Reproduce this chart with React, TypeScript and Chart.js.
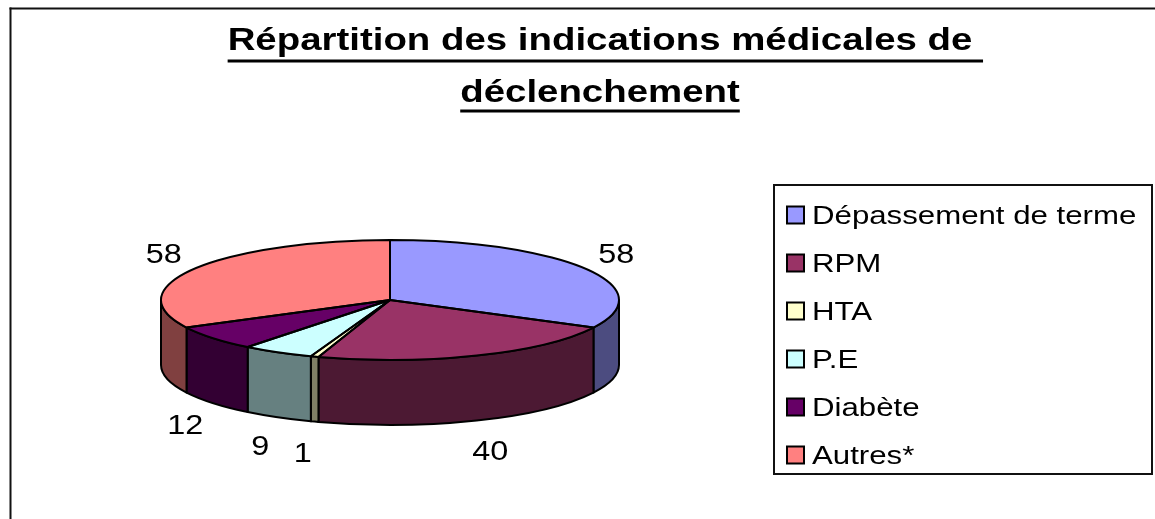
import React, { useEffect, useRef } from "react";
import { Chart, registerables } from "chart.js";

Chart.register(...registerables);

const TITLE_LINES = ["Répartition des indications médicales de ", "déclenchement"];
const CATEGORIES = ["Dépassement de terme", "RPM", "HTA", "P.E", "Diabète", "Autres*"];
const VALUES = [58, 40, 1, 9, 12, 58];
const TOP_COLORS = ["#9999FF", "#993366", "#FFFFCC", "#CCFFFF", "#660066", "#FF8080"];
const SIDE_COLORS = ["#4C4C80", "#4C1933", "#808066", "#668080", "#330033", "#804040"];

const W = 1155;
const H = 519;
const SX = 1.2; // horizontal stretch of all text
const FONT = 'Arial, "Liberation Sans", Helvetica, sans-serif';
const RY = 60; // vertical radius of the pie top
const DEPTH = 65; // thickness of the pie

function stretchedText(ctx: CanvasRenderingContext2D, text: string, x: number, y: number, align: CanvasTextAlign) {
  ctx.save();
  ctx.translate(x, y);
  ctx.scale(SX, 1);
  ctx.textAlign = align;
  ctx.textBaseline = "alphabetic";
  ctx.fillText(text, 0, 0);
  ctx.restore();
}

const framePlugin = {
  id: "frame",
  beforeDraw(chart: any) {
    const ctx = chart.ctx;
    ctx.save();
    ctx.fillStyle = "#ffffff";
    ctx.fillRect(0, 0, chart.width, chart.height);
    ctx.fillStyle = "#111111";
    ctx.fillRect(9.5, 7.5, chart.width, 2);
    ctx.fillRect(9.5, 7.5, 2, chart.height);
    ctx.restore();
  },
};

const pie3dPlugin = {
  id: "pie3d",
  beforeDatasetsDraw(chart: any) {
    const ctx = chart.ctx;
    const arcs = chart.getDatasetMeta(0).data;
    ctx.save();
    if (!arcs.length) return;
    const { x: cx, y: cy, outerRadius: R } = arcs[0];
    arcs.forEach((arc: any, i: number) => {
      const s = Math.max(arc.startAngle, 0);
      const e = Math.min(arc.endAngle, Math.PI);
      if (e <= s) return;
      ctx.beginPath();
      ctx.ellipse(cx, cy, R, RY, 0, s, e, false);
      ctx.ellipse(cx, cy + DEPTH, R, RY, 0, e, s, true);
      ctx.closePath();
      ctx.fillStyle = SIDE_COLORS[i];
      ctx.fill();
      ctx.lineWidth = 2;
      ctx.lineJoin = "round";
      ctx.strokeStyle = "#000";
      ctx.stroke();
    });
    const ky = RY / R;
    ctx.translate(cx, cy);
    ctx.scale(1, ky);
    ctx.translate(-cx, -cy);
  },
  afterDatasetsDraw(chart: any) {
    const ctx = chart.ctx;
    ctx.restore();
    const arcs = chart.getDatasetMeta(0).data;
    if (!arcs.length) return;
    const { x: cx, y: cy, outerRadius: R } = arcs[0];
    ctx.save();
    ctx.lineWidth = 2;
    ctx.lineJoin = "round";
    ctx.strokeStyle = "#000";
    arcs.forEach((arc: any) => {
      ctx.beginPath();
      ctx.moveTo(cx, cy);
      ctx.ellipse(cx, cy, R, RY, 0, arc.startAngle, arc.endAngle, false);
      ctx.closePath();
      ctx.stroke();
    });
    // data labels
    const fs = 27;
    ctx.fillStyle = "#000";
    ctx.font = `${fs}px ${FONT}`;
    arcs.forEach((arc: any, i: number) => {
      const mid = (arc.startAngle + arc.endAngle) / 2;
      const sn = Math.sin(mid);
      const x = cx + (R + 36) * Math.cos(mid);
      const y = cy + (RY + 30) * sn + (sn > 0 ? DEPTH + 2 : 0);
      stretchedText(ctx, String(VALUES[i]), x, y + 0.358 * fs, "center");
    });
    ctx.restore();
  },
};

const titleLegendPlugin = {
  id: "titleLegend",
  afterDraw(chart: any) {
    const ctx = chart.ctx;
    ctx.save();
    // title
    ctx.fillStyle = "#000";
    const tSize = 32;
    ctx.font = `bold ${tSize}px ${FONT}`;
    const baselines = [50, 102];
    const underlines = [59.5, 109.5];
    TITLE_LINES.forEach((line, i) => {
      const full = ctx.measureText(line).width * SX;
      const ink = ctx.measureText(line.trimEnd()).width * SX;
      const x0 = 600 - ink / 2;
      stretchedText(ctx, line, x0, baselines[i], "left");
      ctx.fillRect(x0, underlines[i], full, 3);
    });
    // legend
    const box = { l: 774, t: 185, r: 1152, b: 474 };
    ctx.lineWidth = 2;
    ctx.strokeStyle = "#111";
    ctx.strokeRect(box.l, box.t, box.r - box.l, box.b - box.t);
    const lSize = 26;
    ctx.font = `${lSize}px ${FONT}`;
    CATEGORIES.forEach((label, i) => {
      const cyItem = 215 + 48 * i;
      ctx.fillStyle = TOP_COLORS[i];
      ctx.fillRect(787, cyItem - 8.5, 17, 17);
      ctx.lineWidth = 2;
      ctx.strokeStyle = "#000";
      ctx.strokeRect(787, cyItem - 8.5, 17, 17);
      ctx.fillStyle = "#000";
      stretchedText(ctx, label, 812, cyItem + 0.358 * lSize, "left");
    });
    ctx.restore();
  },
};

export default function App() {
  const canvasRef = useRef<HTMLCanvasElement | null>(null);

  useEffect(() => {
    const canvas = canvasRef.current;
    if (!canvas) return;
    const chart = new Chart(canvas, {
      type: "pie",
      data: {
        labels: CATEGORIES,
        datasets: [
          {
            data: VALUES,
            backgroundColor: TOP_COLORS,
            borderWidth: 0,
            hoverOffset: 0,
            clip: false,
          } as any,
        ],
      },
      options: {
        animation: false,
        responsive: false,
        events: [],
        radius: 229,
        rotation: 0,
        layout: { padding: { left: 161, right: W - 619, top: 81, bottom: 0 } },
        plugins: {
          legend: { display: false },
          title: { display: false },
          tooltip: { enabled: false },
        },
      } as any,
      plugins: [framePlugin, pie3dPlugin, titleLegendPlugin],
    });
    return () => chart.destroy();
  }, []);

  return (
    <div style={{ position: "fixed", left: 0, top: 0, width: W, height: H, overflow: "hidden", background: "#fff" }}>
      <canvas ref={canvasRef} width={W} height={H} style={{ display: "block", width: W, height: H }} />
    </div>
  );
}
